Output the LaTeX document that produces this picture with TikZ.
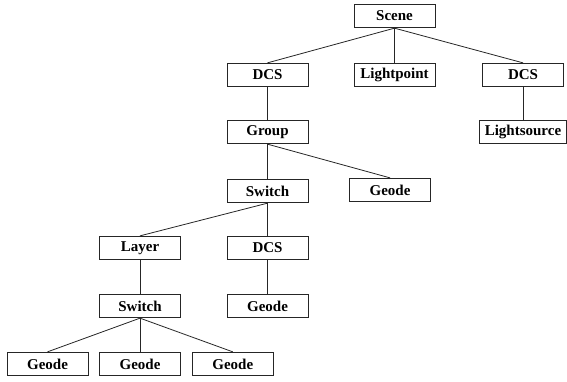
\documentclass[tikz,border=0pt]{standalone}
\usepackage{fontspec}
\setmainfont{Liberation Serif}
\begin{document}
\begin{tikzpicture}[x=1pt,y=-1pt,
  box/.style={draw=black!85, line width=0.8pt, minimum width=81pt, minimum height=23.5pt,
    inner xsep=5pt, inner ysep=0pt, font=\fontsize{15}{15}\selectfont\bfseries},
  edge/.style={draw=black!85, line width=0.8pt}]
\useasboundingbox (0,0) rectangle (567,381);
% scene graph nodes
\node[box] (scene) at (394.5,16) {Scene};
\node[box] (dcsA) at (267.5,75) {DCS};
\node[box] (lp) at (394.5,75) {Lightpoint};
\node[box] (dcsB) at (523,75) {DCS};
\node[box] (ls) at (523,132) {Lightsource};
\node[box] (group) at (267.5,132) {Group};
\node[box] (sw) at (267.5,191) {Switch};
\node[box] (geodeR) at (390,190) {Geode};
\node[box] (layer) at (140,248) {Layer};
\node[box] (dcsC) at (267.5,248) {DCS};
\node[box] (sw2) at (140,306) {Switch};
\node[box] (geodeC) at (267.5,306) {Geode};
\node[box] (g1) at (47.5,364) {Geode};
\node[box] (g2) at (140,364) {Geode};
\node[box] (g3) at (232.8,364) {Geode};
% connectors
\draw[edge] (scene.south) -- (dcsA.north);
\draw[edge] (scene.south) -- (lp.north);
\draw[edge] (scene.south) -- (dcsB.north);
\draw[edge] (dcsB.south) -- (ls.north);
\draw[edge] (dcsA.south) -- (group.north);
\draw[edge] (group.south) -- (sw.north);
\draw[edge] (group.south) -- (geodeR.north);
\draw[edge] (sw.south) -- (layer.north);
\draw[edge] (sw.south) -- (dcsC.north);
\draw[edge] (dcsC.south) -- (geodeC.north);
\draw[edge] (layer.south) -- (sw2.north);
\draw[edge] (sw2.south) -- (g1.north);
\draw[edge] (sw2.south) -- (g2.north);
\draw[edge] (sw2.south) -- (g3.north);
\end{tikzpicture}
\end{document}
